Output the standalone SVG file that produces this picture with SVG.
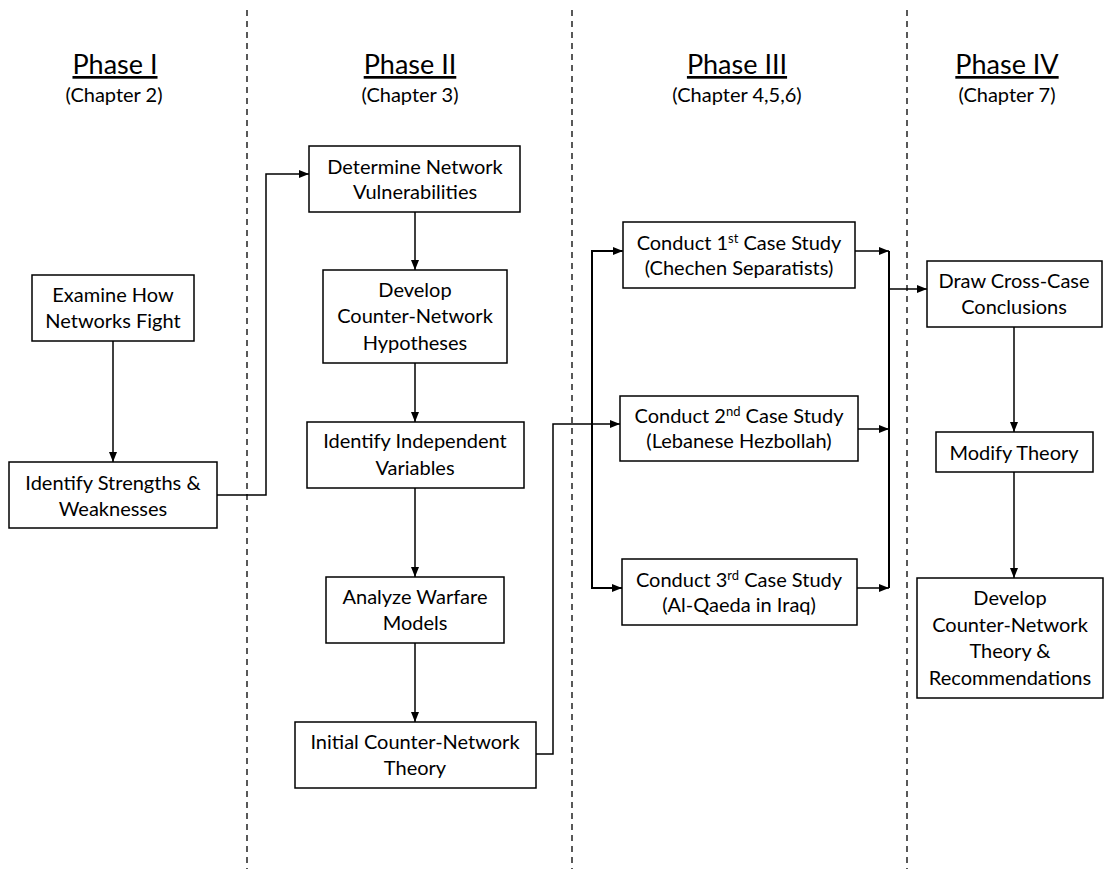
<svg xmlns="http://www.w3.org/2000/svg" width="1107" height="869" viewBox="0 0 1107 869">
<style>
text{font-family:Lato,"Liberation Sans",sans-serif;fill:#000}
.t{font-size:20px;text-anchor:middle}
.h{font-size:27px;text-anchor:middle;text-decoration:underline}
.c{font-size:20px;text-anchor:middle}
.sup{font-size:13px}
rect{fill:#fff;stroke:#000;stroke-width:1.5}
.ln{fill:none;stroke:#000;stroke-width:1.5}
.dv{stroke:#000;stroke-width:1.3;stroke-dasharray:6 5}
</style>
<defs>
<marker id="ah" viewBox="0 0 10 8" refX="10" refY="4" markerWidth="10" markerHeight="8" markerUnits="userSpaceOnUse" orient="auto">
<path d="M0,0 L10,4 L0,8 Z" fill="#000"/>
</marker>
</defs>
<g id="dividers">
<line class="dv" x1="247" y1="10" x2="247" y2="869"/>
<line class="dv" x1="572" y1="10" x2="572" y2="869"/>
<line class="dv" x1="907" y1="10" x2="907" y2="869"/>
</g>
<g id="headers">
<text class="h" x="115" y="74">Phase I</text>
<text class="c" x="114" y="102">(Chapter 2)</text>
<text class="h" x="410" y="74">Phase II</text>
<text class="c" x="410" y="102">(Chapter 3)</text>
<text class="h" x="737" y="74">Phase III</text>
<text class="c" x="737" y="102">(Chapter 4,5,6)</text>
<text class="h" x="1007" y="74">Phase IV</text>
<text class="c" x="1007" y="102">(Chapter 7)</text>
</g>
<g id="connectors">
<line class="ln" x1="113" y1="341" x2="113" y2="462" marker-end="url(#ah)"/>
<polyline class="ln" points="217,495 266,495 266,174 309,174" marker-end="url(#ah)"/>
<line class="ln" x1="415" y1="212" x2="415" y2="270" marker-end="url(#ah)"/>
<line class="ln" x1="415" y1="363" x2="415" y2="422" marker-end="url(#ah)"/>
<line class="ln" x1="415" y1="488" x2="415" y2="577" marker-end="url(#ah)"/>
<line class="ln" x1="415" y1="643" x2="415" y2="722" marker-end="url(#ah)"/>
<polyline class="ln" points="536,754 553,754 553,424 620,424" marker-end="url(#ah)"/>
<polyline class="ln" points="622,251 592,251 592,588 622,588" style="stroke-width:2" />
<line class="ln" x1="592" y1="251" x2="623" y2="251" marker-end="url(#ah)"/>
<line class="ln" x1="592" y1="588" x2="622" y2="588" marker-end="url(#ah)"/>
<line class="ln" x1="855" y1="251" x2="889" y2="251" marker-end="url(#ah)"/>
<line class="ln" x1="858" y1="429" x2="889" y2="429" marker-end="url(#ah)"/>
<line class="ln" x1="857" y1="588" x2="889" y2="588" marker-end="url(#ah)"/>
<line class="ln" x1="889" y1="251" x2="889" y2="588" style="stroke-width:2"/>
<line class="ln" x1="889" y1="289" x2="927" y2="289" marker-end="url(#ah)"/>
<line class="ln" x1="1014" y1="327" x2="1014" y2="432" marker-end="url(#ah)"/>
<line class="ln" x1="1014" y1="472" x2="1014" y2="578" marker-end="url(#ah)"/>
</g>
<g id="n1">
<rect x="32" y="275" width="162" height="66"/>
<text class="t" x="113" y="302">Examine How</text>
<text class="t" x="113" y="328">Networks Fight</text>
</g>
<g id="n2">
<rect x="9" y="462" width="208" height="66"/>
<text class="t" x="113" y="490">Identify Strengths &amp;</text>
<text class="t" x="113" y="516">Weaknesses</text>
</g>
<g id="n3">
<rect x="309" y="146" width="211" height="66"/>
<text class="t" x="415" y="174">Determine Network</text>
<text class="t" x="415" y="199">Vulnerabilities</text>
</g>
<g id="n4">
<rect x="323" y="270" width="184" height="93"/>
<text class="t" x="415" y="297">Develop</text>
<text class="t" x="415" y="323">Counter-Network</text>
<text class="t" x="415" y="350">Hypotheses</text>
</g>
<g id="n5">
<rect x="307" y="422" width="217" height="66"/>
<text class="t" x="415" y="448">Identify Independent</text>
<text class="t" x="415" y="475">Variables</text>
</g>
<g id="n6">
<rect x="326" y="577" width="178" height="66"/>
<text class="t" x="415" y="604">Analyze Warfare</text>
<text class="t" x="415" y="630">Models</text>
</g>
<g id="n7">
<rect x="295" y="722" width="241" height="66"/>
<text class="t" x="415" y="749">Initial Counter-Network</text>
<text class="t" x="415" y="775">Theory</text>
</g>
<g id="n8">
<rect x="623" y="222" width="232" height="66"/>
<text class="t" x="739" y="250">Conduct 1<tspan class="sup" dy="-7">st</tspan><tspan dy="7"> Case Study</tspan></text>
<text class="t" x="739" y="275">(Chechen Separatists)</text>
</g>
<g id="n9">
<rect x="620" y="396" width="238" height="65"/>
<text class="t" x="739" y="423">Conduct 2<tspan class="sup" dy="-7">nd</tspan><tspan dy="7"> Case Study</tspan></text>
<text class="t" x="739" y="448">(Lebanese Hezbollah)</text>
</g>
<g id="n10">
<rect x="622" y="559" width="235" height="66"/>
<text class="t" x="739" y="587">Conduct 3<tspan class="sup" dy="-7">rd</tspan><tspan dy="7"> Case Study</tspan></text>
<text class="t" x="739" y="612">(Al-Qaeda in Iraq)</text>
</g>
<g id="n11">
<rect x="927" y="261" width="175" height="66"/>
<text class="t" x="1014" y="288">Draw Cross-Case</text>
<text class="t" x="1014" y="314">Conclusions</text>
</g>
<g id="n12">
<rect x="936" y="432" width="157" height="40"/>
<text class="t" x="1014" y="460">Modify Theory</text>
</g>
<g id="n13">
<rect x="917" y="578" width="186" height="120"/>
<text class="t" x="1010" y="605">Develop</text>
<text class="t" x="1010" y="632">Counter-Network</text>
<text class="t" x="1010" y="658">Theory &amp;</text>
<text class="t" x="1010" y="685">Recommendations</text>
</g>
</svg>
